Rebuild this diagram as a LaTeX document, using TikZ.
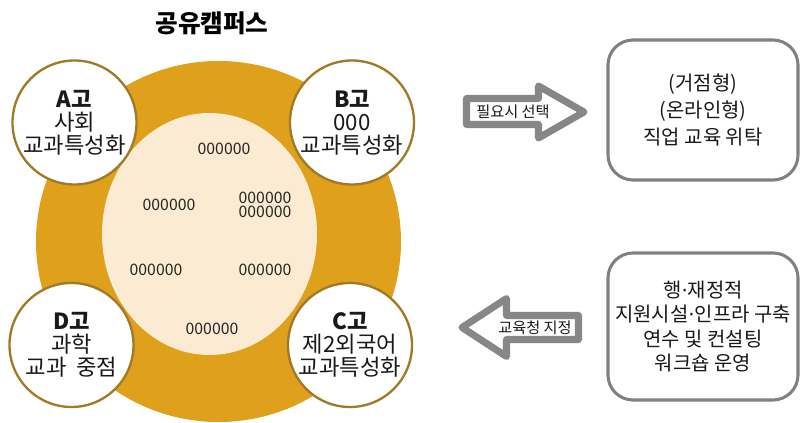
\documentclass[tikz,border=0pt]{standalone}
\usepackage{fontspec}
\setmainfont{Noto Sans CJK KR}
\newfontfamily\dotfont{DejaVu Sans}
\usepackage{xcolor}
\usetikzlibrary{shapes,positioning}
\definecolor{campusorange}{RGB}{223, 160, 28}
\definecolor{campuscream}{RGB}{250, 235, 210}
\definecolor{schoolrim}{RGB}{160, 122, 40}
\definecolor{boxgray}{RGB}{128, 128, 128}
\definecolor{arrowgray}{RGB}{135, 135, 135}
\newcommand{\middot}{{\dotfont ·}}

\begin{document}
\begin{tikzpicture}[
    x=0.03cm, y=-0.03cm,
    school/.style={circle, draw=schoolrim, line width=2pt, fill=white, minimum size=3.72cm, inner sep=0pt, align=center, text=black!90, font=\fontsize{19}{19.5}\selectfont},
    course/.style={font=\fontsize{13.5}{12}\selectfont, text=black!85, align=center, inner sep=0pt},
    infobox/.style={rectangle, rounded corners=0.75cm, draw=boxgray, line width=2.6pt, fill=white, minimum width=5.7cm, align=center, text=black!90},
    blockarrow/.style={draw=arrowgray, line width=6pt, line join=round, fill=white},
    arrowlabel/.style={font=\fontsize{13}{14}\selectfont, text=black!90, inner sep=0pt}
]
\useasboundingbox (0,0) rectangle (801,423);

% campus
\node[ellipse, fill=campusorange, minimum width=10.95cm, minimum height=10.83cm, inner sep=0pt] (campus) at (218.5,241.5) {};
\node[ellipse, fill=campuscream, minimum width=6.45cm, minimum height=7.26cm, inner sep=0pt] (core) at (209.5,234) {};
\node[font=\fontsize{21}{22}\selectfont\bfseries] (title) at (212,23) {공유캠퍼스};

\node[course] (c1) at (224,149) {000000};
\node[course] (c2) at (169,205) {000000};
\node[course] (c3) at (265,205) {000000\\000000};
\node[course] (c4) at (156,270) {000000};
\node[course] (c5) at (265,270) {000000};
\node[course] (c6) at (212,329) {000000};

% schools
\node[school] (schoolA) at (74.5,122.5) {\textbf{A고}\\사회\\교과특성화};
\node[school] (schoolB) at (352,122.5) {\textbf{B고}\\000\\교과특성화};
\node[school] (schoolD) at (71.5,345) {\textbf{D고}\\과학\\교과\ \ 중점};
\node[school] (schoolC) at (350,345) {\textbf{C고}\\제2외국어\\교과특성화};

% right side
\node[infobox, minimum height=4.2cm, font=\fontsize{17}{23}\selectfont] (hub) at (703,110) {(거점형)\\(온라인형)\\직업 교육 위탁};
\node[infobox, minimum height=4.41cm, font=\fontsize{17}{21}\selectfont] (support) at (703,326.5) {행\middot 재정적\\지원시설\middot 인프라 구축\\연수 및 컨설팅\\워크숍 운영};

\draw[blockarrow] (466.5,98.5) -- (538.5,98.5) -- (538.5,86) -- (584,112) -- (538.5,138) -- (538.5,124.5) -- (466.5,124.5) -- cycle;
\node[arrowlabel] (pick) at (513,112) {필요시 선택};

\draw[blockarrow] (462,327.5) -- (506.5,298.5) -- (506.5,315.5) -- (578.5,315.5) -- (578.5,339.5) -- (506.5,339.5) -- (506.5,356.5) -- cycle;
\node[arrowlabel] (assign) at (535,328) {교육청 지정};

\end{tikzpicture}
\end{document}
